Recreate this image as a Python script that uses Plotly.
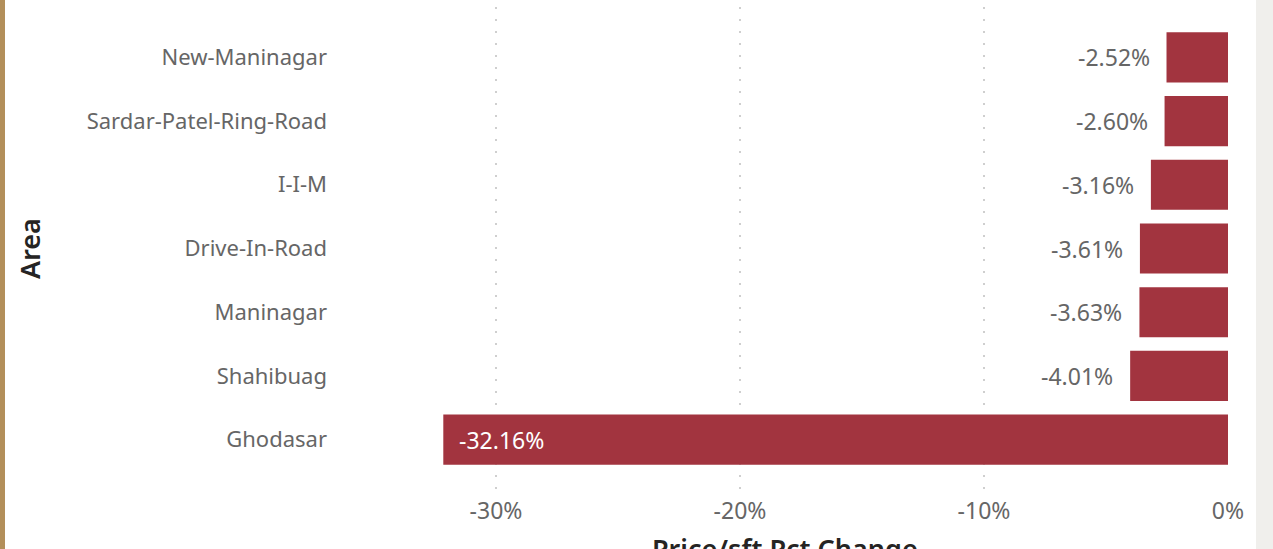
import plotly.graph_objects as go

areas = ["New-Maninagar", "Sardar-Patel-Ring-Road", "I-I-M", "Drive-In-Road",
         "Maninagar", "Shahibuag", "Ghodasar"]
pct_change = [-2.52, -2.60, -3.16, -3.61, -3.63, -4.01, -32.16]
x_ticks = [-30, -20, -10, 0]
x_tick_labels = ["-30%", "-20%", "-10%", "0%"]

BAR = "#A2343F"
FONT = "Noto Sans"
TFONT = "Noto Sans"
W, H = 1273, 549
ML, MR, MT, MB = 335, 45, 7, 59
pw = W - ML - MR
ph = H - MT - MB

def px_x(p):
    return (p - ML) / pw

def px_y(p):
    return (H - MB - p) / ph

fig = go.Figure(go.Bar(
    x=pct_change, y=areas, orientation="h",
    marker=dict(color=BAR, line=dict(width=0)),
    hoverinfo="skip",
))

ann = []
for a, v in zip(areas, pct_change):
    inside = v < -20
    ann.append(dict(
        x=v, y=a, xref="x", yref="y", text=f"{v:.2f}%", showarrow=False,
        xanchor="left" if inside else "right",
        xshift=14 if inside else -15,
        font=dict(family=FONT, size=23, color="#FFFFFF" if inside else "#666666"),
    ))
ann.append(dict(x=px_x(29), y=px_y(249), xref="paper", yref="paper", text="Area",
                showarrow=False, textangle=-90, xanchor="center", yanchor="middle",
                font=dict(family=TFONT, size=27, color="#252423", weight=600)))
ann.append(dict(x=px_x(785), y=px_y(528), xref="paper", yref="paper",
                text="Price/sft Pct Change", showarrow=False,
                xanchor="center", yanchor="top",
                font=dict(family=TFONT, size=27, color="#252423", weight=600)))

shapes = [
    dict(type="rect", xref="paper", yref="paper", x0=px_x(-2), x1=px_x(5),
         y0=px_y(-5), y1=px_y(560), fillcolor="#B38F5A", line=dict(width=0), layer="below"),
    dict(type="rect", xref="paper", yref="paper", x0=px_x(1256), x1=px_x(1280),
         y0=px_y(-5), y1=px_y(560), fillcolor="#F0EFEC", line=dict(width=0), layer="below"),
]

fig.update_layout(
    width=W, height=H,
    margin=dict(l=ML, r=MR, t=MT, b=MB, autoexpand=False),
    paper_bgcolor="white", plot_bgcolor="white",
    bargap=0.213, showlegend=False,
    annotations=ann, shapes=shapes,
    font=dict(family=FONT),
    xaxis=dict(
        range=[-(1228 - ML) / 24.4, 0],
        tickvals=x_ticks, ticktext=x_tick_labels,
        showgrid=True, gridcolor="#CFCFCF", griddash="2px,10px", gridwidth=1.5,
        zeroline=False, showline=False, ticks="",
        tickfont=dict(family=FONT, size=23, color="#666666"),
        ticklabelstandoff=5, fixedrange=True,
    ),
    yaxis=dict(
        type="category", categoryorder="array", categoryarray=areas,
        range=[6.79, -0.79],
        showgrid=False, zeroline=False, showline=False, ticks="",
        tickfont=dict(family=FONT, size=22, color="#666666"),
        ticklabelstandoff=7, fixedrange=True,
    ),
)

fig.write_html("out.html", config={"displayModeBar": False},
               post_script="document.body.style.margin='0';document.body.style.overflow='hidden';")
